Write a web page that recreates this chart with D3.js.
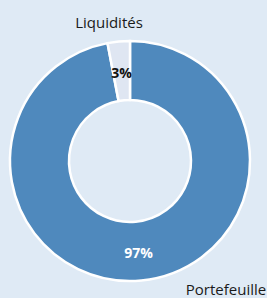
<!DOCTYPE html>
<html><head><meta charset="utf-8">
<script src="https://cdn.jsdelivr.net/npm/d3@7"></script>
<style>html,body{margin:0;padding:0;background:#dfeaf5;}svg{display:block;}</style>
</head><body>
<script>
const categories = ["Portefeuille", "Liquidités"];
const values = [97, 3];
const valueLabels = ["97%", "3%"];
const colors = ["#4f89bd", "#dfe6f2"];

const W = 267, H = 298;
const cx = 130, cy = 161, rOuter = 120, rInner = 61;
const svg = d3.select("body").append("svg").attr("width", W).attr("height", H);
svg.append("rect").attr("width", W).attr("height", H).attr("fill", "#dfeaf5");

const data = categories.map((c, i) => ({cat: c, value: values[i], label: valueLabels[i], color: colors[i]}));
const pie = d3.pie().sort(null).value(d => d.value);
const arc = d3.arc().innerRadius(rInner).outerRadius(rOuter);
const labelArc = d3.arc().innerRadius(90).outerRadius(90);
const arcs = pie(data);

const g = svg.append("g").attr("transform", `translate(${cx},${cy})`);
g.selectAll("path").data(arcs).join("path")
  .attr("d", arc).attr("fill", d => d.data.color)
  .attr("stroke", "#ffffff").attr("stroke-width", 2.5);

g.selectAll("text.val").data(arcs).join("text")
  .attr("class", "val")
  .attr("transform", d => { const [x, y] = labelArc.centroid(d); return `translate(${x},${y + 2})`; })
  .attr("text-anchor", "middle").attr("dy", "0.36em")
  .attr("font-family", "Open Sans, sans-serif").attr("font-size", 14).attr("font-weight", "bold")
  .attr("fill", (d, i) => i === 0 ? "#ffffff" : "#111111")
  .text(d => d.data.label);

// category labels outside the ring
const catPos = { "Portefeuille": [226, 295], "Liquidités": [109, 28] };
svg.selectAll("text.cat").data(data).join("text")
  .attr("class", "cat")
  .attr("x", d => catPos[d.cat][0]).attr("y", d => catPos[d.cat][1])
  .attr("text-anchor", "middle")
  .attr("font-family", "Open Sans, sans-serif").attr("font-size", 15)
  .attr("fill", "#1a1a1a")
  .text(d => d.cat);
</script>
</body></html>
